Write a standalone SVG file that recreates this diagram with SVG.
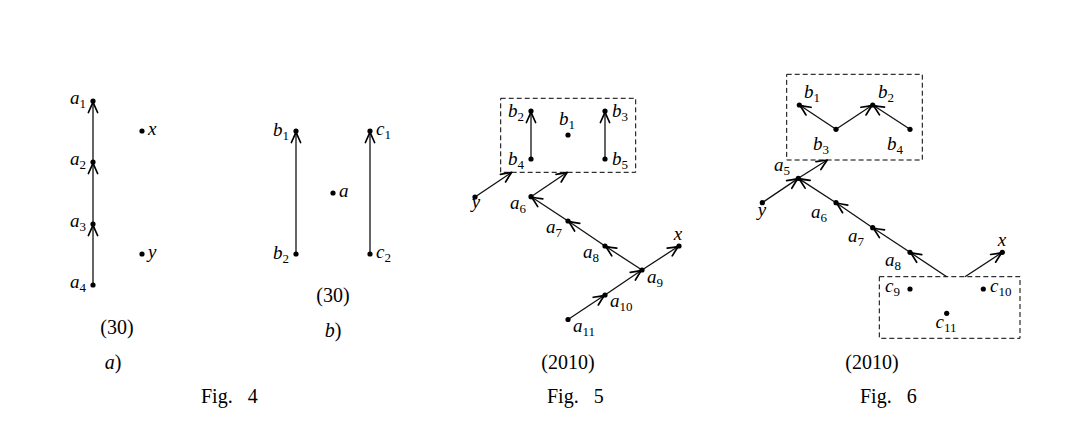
<svg xmlns="http://www.w3.org/2000/svg" width="1090" height="445" viewBox="0 0 1090 445">
<style>
text{font-family:"Liberation Serif","DejaVu Serif",serif;fill:#000}
.m{font-style:italic;font-size:19px}
.s{font-size:13px;font-style:normal}
.cap{font-size:20px}
.fig{font-size:20px;word-spacing:10px}
.e{stroke:#111;stroke-width:1.3;fill:none;marker-end:url(#ah)}
.box{stroke:#000;stroke-width:1;fill:none;stroke-dasharray:5 3}
.d{fill:#000}
</style>
<defs>
<marker id="ah" markerUnits="userSpaceOnUse" viewBox="-12 -6 14 12" refX="0" refY="0" markerWidth="14" markerHeight="12" orient="auto" overflow="visible">
<path d="M-10.5,-4.6 Q-4,-1.6 0,0 Q-4,1.6 -10.5,4.6" stroke="#000" stroke-width="1.7" fill="none" stroke-linecap="round" stroke-linejoin="round"/>
</marker>
</defs>

<g id="connectors">
<line class="e" x1="93" y1="285" x2="93" y2="225"/>
<line class="e" x1="93" y1="224" x2="93" y2="163"/>
<line class="e" x1="93" y1="162" x2="93" y2="102"/>
<line class="e" x1="296" y1="254" x2="296" y2="132"/>
<line class="e" x1="370" y1="254" x2="370" y2="132"/>
<line class="e" x1="531" y1="159" x2="531" y2="112"/>
<line class="e" x1="605" y1="159" x2="605" y2="112"/>
<line class="e" x1="475" y1="197" x2="511.7" y2="172.3"/>
<line class="e" x1="531" y1="196.7" x2="567.3" y2="172.3"/>
<line class="e" x1="568" y1="221" x2="531.5" y2="197"/>
<line class="e" x1="605" y1="246" x2="568.5" y2="221.3"/>
<line class="e" x1="642" y1="270" x2="605.5" y2="246.3"/>
<line class="e" x1="642" y1="270" x2="678.5" y2="246.3"/>
<line class="e" x1="605" y1="295" x2="641.5" y2="270.3"/>
<line class="e" x1="568" y1="319.5" x2="604.5" y2="295.3"/>
<line class="e" x1="836" y1="129.3" x2="799.8" y2="105.3"/>
<line class="e" x1="836" y1="129.3" x2="872.2" y2="105.3"/>
<line class="e" x1="910" y1="129.3" x2="873.2" y2="105.3"/>
<line class="e" x1="762.3" y1="202.7" x2="797.9" y2="178.6"/>
<line class="e" x1="798.3" y1="178.3" x2="827.3" y2="160"/>
<line class="e" x1="836" y1="202.7" x2="798.8" y2="178.6"/>
<line class="e" x1="872.7" y1="227.7" x2="836.5" y2="203"/>
<line class="e" x1="910" y1="252.3" x2="873.2" y2="228"/>
<line class="e" x1="946.7" y1="276.7" x2="910.5" y2="252.6"/>
<line class="e" x1="965" y1="276.7" x2="1001.9" y2="252.6"/>
</g>

<g id="boxes">
<rect class="box" x="500.7" y="98.3" width="135" height="74"/>
<rect class="box" x="786.7" y="74.3" width="135.6" height="85.7"/>
<rect class="box" x="879.3" y="276.7" width="140.7" height="61.6"/>
</g>

<g id="f4a-a1"><circle class="d" cx="93" cy="101" r="2.6"/><text x="86" y="104" text-anchor="end"><tspan class="m">a</tspan><tspan class="s" dy="4">1</tspan></text></g>
<g id="f4a-a2"><circle class="d" cx="93" cy="162" r="2.6"/><text x="86" y="165" text-anchor="end"><tspan class="m">a</tspan><tspan class="s" dy="4">2</tspan></text></g>
<g id="f4a-a3"><circle class="d" cx="93" cy="224" r="2.6"/><text x="86" y="227" text-anchor="end"><tspan class="m">a</tspan><tspan class="s" dy="4">3</tspan></text></g>
<g id="f4a-a4"><circle class="d" cx="93" cy="285" r="2.6"/><text x="86" y="288" text-anchor="end"><tspan class="m">a</tspan><tspan class="s" dy="4">4</tspan></text></g>
<g id="f4a-x"><circle class="d" cx="142" cy="131" r="2.6"/><text x="148" y="135" class="m">x</text></g>
<g id="f4a-y"><circle class="d" cx="142" cy="254" r="2.6"/><text x="148" y="258" class="m">y</text></g>
<text x="117" y="334" text-anchor="middle" class="cap">(30)</text>
<text x="113" y="369" text-anchor="middle" class="cap"><tspan font-style="italic">a</tspan>)</text>

<g id="f4b-b1"><circle class="d" cx="296" cy="131" r="2.6"/><text x="289" y="136" text-anchor="end"><tspan class="m">b</tspan><tspan class="s" dy="4">1</tspan></text></g>
<g id="f4b-b2"><circle class="d" cx="296" cy="254" r="2.6"/><text x="289" y="259" text-anchor="end"><tspan class="m">b</tspan><tspan class="s" dy="4">2</tspan></text></g>
<g id="f4b-c1"><circle class="d" cx="370" cy="131" r="2.6"/><text x="376" y="135"><tspan class="m">c</tspan><tspan class="s" dy="4">1</tspan></text></g>
<g id="f4b-c2"><circle class="d" cx="370" cy="254" r="2.6"/><text x="376" y="258"><tspan class="m">c</tspan><tspan class="s" dy="4">2</tspan></text></g>
<g id="f4b-a"><circle class="d" cx="333" cy="193" r="2.6"/><text x="339" y="197" class="m">a</text></g>
<text x="333" y="302" text-anchor="middle" class="cap">(30)</text>
<text x="333" y="337" text-anchor="middle" class="cap"><tspan font-style="italic">b</tspan>)</text>
<text x="201" y="403" class="fig">Fig. 4</text>

<g id="f5-b2"><circle class="d" cx="531" cy="111" r="2.6"/><text x="524" y="117" text-anchor="end"><tspan class="m">b</tspan><tspan class="s" dy="4">2</tspan></text></g>
<g id="f5-b1"><circle class="d" cx="568" cy="135" r="2.6"/><text x="567" y="125" text-anchor="middle"><tspan class="m">b</tspan><tspan class="s" dy="4">1</tspan></text></g>
<g id="f5-b3"><circle class="d" cx="605" cy="111" r="2.6"/><text x="612" y="117"><tspan class="m">b</tspan><tspan class="s" dy="4">3</tspan></text></g>
<g id="f5-b4"><circle class="d" cx="531" cy="159" r="2.6"/><text x="524" y="165" text-anchor="end"><tspan class="m">b</tspan><tspan class="s" dy="4">4</tspan></text></g>
<g id="f5-b5"><circle class="d" cx="605" cy="159" r="2.6"/><text x="612" y="165"><tspan class="m">b</tspan><tspan class="s" dy="4">5</tspan></text></g>
<g id="f5-y"><circle class="d" cx="475" cy="197" r="2.6"/><text x="476" y="208" text-anchor="middle" class="m">y</text></g>
<g id="f5-a6"><circle class="d" cx="531" cy="196.7" r="2.6"/><text x="526" y="209" text-anchor="end"><tspan class="m">a</tspan><tspan class="s" dy="4">6</tspan></text></g>
<g id="f5-a7"><circle class="d" cx="568" cy="221" r="2.6"/><text x="562" y="233" text-anchor="end"><tspan class="m">a</tspan><tspan class="s" dy="4">7</tspan></text></g>
<g id="f5-a8"><circle class="d" cx="605" cy="246" r="2.6"/><text x="599" y="258" text-anchor="end"><tspan class="m">a</tspan><tspan class="s" dy="4">8</tspan></text></g>
<g id="f5-a9"><circle class="d" cx="642" cy="270" r="2.6"/><text x="647" y="283"><tspan class="m">a</tspan><tspan class="s" dy="4">9</tspan></text></g>
<g id="f5-a10"><circle class="d" cx="605" cy="295" r="2.6"/><text x="610" y="307"><tspan class="m">a</tspan><tspan class="s" dy="4">10</tspan></text></g>
<g id="f5-a11"><circle class="d" cx="568" cy="319.5" r="2.6"/><text x="573" y="332"><tspan class="m">a</tspan><tspan class="s" dy="4">11</tspan></text></g>
<g id="f5-x"><circle class="d" cx="679" cy="246" r="2.6"/><text x="678" y="240" text-anchor="middle" class="m">x</text></g>
<text x="568" y="369" text-anchor="middle" class="cap">(2010)</text>
<text x="547" y="403" class="fig">Fig. 5</text>

<g id="f6-b1"><circle class="d" cx="799.3" cy="105" r="2.6"/><text x="804" y="98"><tspan class="m">b</tspan><tspan class="s" dy="4">1</tspan></text></g>
<g id="f6-b2"><circle class="d" cx="872.7" cy="105" r="2.6"/><text x="878" y="98"><tspan class="m">b</tspan><tspan class="s" dy="4">2</tspan></text></g>
<g id="f6-b3"><circle class="d" cx="836" cy="129.3" r="2.6"/><text x="813" y="150"><tspan class="m">b</tspan><tspan class="s" dy="4">3</tspan></text></g>
<g id="f6-b4"><circle class="d" cx="910" cy="129.3" r="2.6"/><text x="887" y="150"><tspan class="m">b</tspan><tspan class="s" dy="4">4</tspan></text></g>
<g id="f6-a5"><circle class="d" cx="798.3" cy="178.3" r="2.6"/><text x="774" y="171"><tspan class="m">a</tspan><tspan class="s" dy="4">5</tspan></text></g>
<g id="f6-y"><circle class="d" cx="762.3" cy="202.7" r="2.6"/><text x="762" y="216" text-anchor="middle" class="m">y</text></g>
<g id="f6-a6"><circle class="d" cx="836" cy="202.7" r="2.6"/><text x="811" y="218"><tspan class="m">a</tspan><tspan class="s" dy="4">6</tspan></text></g>
<g id="f6-a7"><circle class="d" cx="872.7" cy="227.7" r="2.6"/><text x="848" y="242"><tspan class="m">a</tspan><tspan class="s" dy="4">7</tspan></text></g>
<g id="f6-a8"><circle class="d" cx="910" cy="252.3" r="2.6"/><text x="885" y="266"><tspan class="m">a</tspan><tspan class="s" dy="4">8</tspan></text></g>
<g id="f6-x"><circle class="d" cx="1002.3" cy="252.3" r="2.6"/><text x="1002" y="246" text-anchor="middle" class="m">x</text></g>
<g id="f6-c9"><circle class="d" cx="910" cy="289" r="2.6"/><text x="885" y="292"><tspan class="m">c</tspan><tspan class="s" dy="4">9</tspan></text></g>
<g id="f6-c10"><circle class="d" cx="983.3" cy="289" r="2.6"/><text x="990" y="292"><tspan class="m">c</tspan><tspan class="s" dy="4">10</tspan></text></g>
<g id="f6-c11"><circle class="d" cx="946.7" cy="313.3" r="2.6"/><text x="946" y="328" text-anchor="middle"><tspan class="m">c</tspan><tspan class="s" dy="4">11</tspan></text></g>
<text x="872" y="369" text-anchor="middle" class="cap">(2010)</text>
<text x="860" y="403" class="fig">Fig. 6</text>
</svg>
